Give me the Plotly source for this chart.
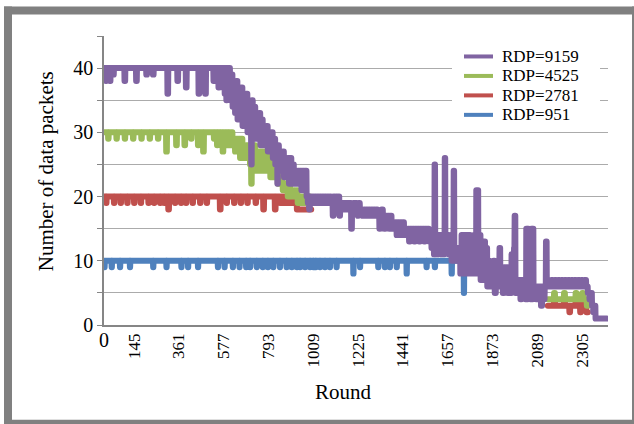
import plotly.graph_objects as go

# Each series is a list of (round, value) change points: the value holds from
# that round until the next change point. None marks rounds with no data.
LAST_ROUND = 2425

RDP_9159 = [
    (0, 40), (8, 38), (12, 40), (18, 39), (22, 40), (28, 38), (32, 40), (44, 39), (48, 40),
    (99, 38), (103, 40), (155, 38), (159, 40), (204, 39), (208, 40), (236, 39), (240, 40),
    (306, 36), (310, 40), (354, 38), (358, 40), (395, 37), (399, 40), (456, 36), (460, 40),
    (488, 36), (492, 40),
    (528, 38), (532, 40), (540, 38), (544, 40), (552, 37), (556, 40), (562, 38), (566, 40),
    (572, 37), (576, 40), (582, 36), (586, 40), (590, 35), (594, 40), (598, 36), (602, 40),
    (608, 35), (614, 39), (620, 34), (626, 38), (632, 33), (638, 38), (644, 32), (650, 37),
    (656, 32), (662, 37), (668, 31), (674, 36), (680, 31), (686, 36), (692, 30), (698, 35),
    (704, 30), (710, 25), (713, 35), (718, 30), (724, 34), (730, 29), (736, 33), (742, 29),
    (748, 33), (754, 28), (760, 32), (766, 28), (772, 31), (778, 28), (784, 31), (790, 27),
    (796, 30), (802, 27), (808, 30), (814, 26), (820, 29), (826, 25), (832, 28), (836, 22),
    (839, 28), (844, 25), (850, 27), (856, 24), (862, 27), (868, 23), (874, 26), (880, 23),
    (886, 26), (892, 22), (898, 26), (904, 22), (910, 25), (916, 22), (922, 24), (928, 22),
    (934, 24), (940, 22), (946, 24), (952, 21), (958, 24), (964, 22), (970, 24),
    (977, 20), (983, 19), (989, 18), (993, 20), (999, 19), (1005, 20), (1011, 19), (1017, 20),
    (1023, 19), (1029, 20), (1035, 19), (1041, 20), (1047, 19), (1053, 20), (1059, 19),
    (1065, 20), (1071, 19), (1077, 20), (1083, 19), (1089, 20), (1095, 19), (1103, 17),
    (1107, 20), (1113, 19), (1119, 20), (1125, 19), (1131, 20), (1135, 17), (1139, 19),
    (1145, 18), (1151, 19), (1157, 18), (1163, 19), (1169, 18), (1175, 19), (1181, 18),
    (1187, 19), (1192, 15), (1196, 18), (1202, 19), (1208, 18), (1214, 19), (1220, 18),
    (1224, 17), (1228, 19), (1234, 18), (1241, 18), (1247, 17), (1253, 18), (1259, 17),
    (1265, 18), (1271, 17), (1277, 18), (1283, 17), (1289, 18), (1295, 17), (1301, 18),
    (1307, 17), (1313, 18), (1319, 17), (1328, 15), (1332, 17), (1338, 18),
    (1345, 17), (1351, 15), (1357, 17), (1363, 16), (1369, 17), (1375, 15), (1381, 17),
    (1387, 15), (1393, 16), (1399, 15), (1405, 16), (1411, 14), (1417, 16), (1423, 14),
    (1429, 16), (1435, 14), (1441, 16), (1447, 14), (1453, 15), (1459, 14), (1465, 15),
    (1471, 13), (1477, 15), (1483, 14), (1489, 15), (1495, 13), (1501, 15), (1507, 14),
    (1513, 15), (1519, 13), (1525, 15), (1531, 14), (1537, 15), (1543, 13), (1549, 15),
    (1555, 14), (1561, 15), (1567, 13),
    (1573, 14), (1579, 12), (1585, 14), (1591, 11), (1594, 25), (1597, 13), (1603, 11),
    (1609, 14), (1615, 12), (1621, 14), (1627, 11), (1633, 13), (1639, 11), (1643, 26),
    (1646, 14), (1652, 12), (1658, 14), (1664, 11), (1670, 12), (1676, 10), (1682, 12),
    (1686, 24), (1689, 11), (1695, 10), (1701, 12), (1707, 10), (1713, 12),
    (1718, 8), (1724, 14), (1730, 9), (1736, 14), (1742, 8), (1748, 14), (1754, 9),
    (1760, 14), (1766, 8), (1772, 13), (1778, 9), (1784, 14), (1790, 8), (1795, 21),
    (1805, 9), (1810, 14), (1816, 7), (1822, 12), (1828, 7), (1832, 13), (1838, 8),
    (1842, 12), (1848, 6), (1854, 10), (1860, 6), (1866, 9), (1872, 6), (1878, 10),
    (1884, 5), (1890, 9), (1896, 6), (1902, 9), (1907, 12), (1911, 6), (1917, 9),
    (1923, 5), (1929, 9), (1935, 6), (1941, 9), (1947, 5), (1953, 8), (1959, 5),
    (1965, 11), (1971, 6), (1977, 12), (1980, 17), (1984, 5), (1990, 7), (1996, 5),
    (2002, 7), (2008, 4), (2014, 7), (2020, 5), (2026, 7), (2032, 4), (2036, 15),
    (2040, 4), (2044, 15), (2048, 5), (2052, 14), (2056, 4), (2060, 15), (2064, 4),
    (2068, 15), (2071, 5), (2077, 6), (2083, 4), (2089, 6), (2095, 4), (2101, 6),
    (2107, 3), (2113, 6), (2119, 4), (2125, 6), (2131, 13), (2135, 6),
    (2141, 7), (2149, 6), (2157, 7), (2165, 6), (2173, 7), (2181, 6), (2189, 7),
    (2197, 6), (2205, 7), (2213, 6), (2221, 7), (2229, 6), (2237, 7), (2245, 6),
    (2253, 7), (2261, 6), (2269, 7), (2277, 6), (2285, 7), (2293, 6), (2301, 7),
    (2309, 6), (2317, 7), (2325, 6),
    (2333, 5), (2341, 4), (2347, 5), (2353, 3), (2359, 2), (2365, 3), (2370, 1),
]

RDP_4525 = [
    (0, 30), (20, 29), (23, 30), (60, 29), (63, 30), (100, 29), (103, 30), (140, 29),
    (143, 30), (180, 29), (183, 30), (220, 29), (223, 30), (260, 29), (263, 30), (300, 27),
    (304, 30), (348, 28), (352, 30), (388, 28), (392, 30), (420, 29), (423, 30), (453, 28),
    (457, 30), (478, 27), (482, 30), (530, 29), (534, 30), (545, 28), (549, 30), (560, 29),
    (564, 30), (572, 27), (576, 30), (586, 28), (590, 30), (598, 28), (602, 30),
    (608, 28), (614, 30), (620, 28), (626, 29), (632, 27), (638, 29), (644, 27), (650, 29),
    (656, 26), (662, 29), (668, 26), (674, 28), (680, 26), (686, 28), (692, 26), (698, 28),
    (704, 25), (710, 22), (713, 28), (718, 25), (724, 28), (730, 24), (736, 27), (742, 24),
    (748, 27), (754, 24), (760, 27), (766, 24), (772, 27), (778, 24), (784, 27), (790, 24),
    (796, 26), (802, 23), (808, 25), (814, 23), (820, 25), (826, 23), (832, 24), (838, 22),
    (844, 23), (850, 22), (856, 23), (862, 21), (868, 22), (874, 21), (880, 22), (886, 20),
    (892, 22), (898, 20), (904, 21), (910, 20), (916, 21), (922, 20), (928, 21), (934, 19),
    (940, 20), (946, 19), (952, 20), (958, 19), (964, 20), (970, 19), (976, 20), (982, 19),
    (988, 20), (994, 19), (1000, None),
    (2140, 4), (2170, 5), (2175, 4), (2218, 5), (2223, 4), (2274, 5), (2279, 4),
    (2306, 5), (2311, 4), (2328, 3), (2334, None),
]

RDP_2781 = [
    (0, 20), (10, 19), (13, 20), (48, 19), (51, 20), (80, 19), (83, 20), (112, 19), (115, 20),
    (145, 19), (148, 20), (177, 19), (180, 20), (214, 19), (217, 20), (241, 19), (244, 20),
    (270, 19), (273, 20), (290, 19), (293, 20), (310, 18), (314, 20), (342, 19), (345, 20),
    (371, 19), (374, 20), (395, 19), (398, 20), (427, 19), (430, 20), (463, 19), (466, 20),
    (495, 19), (498, 20), (559, 18), (563, 20), (591, 19), (594, 20), (627, 19), (630, 20),
    (659, 19), (662, 20), (691, 19), (694, 20), (731, 19), (734, 20), (768, 18), (772, 20),
    (824, 18), (828, 20), (848, 19), (854, 20), (860, 19), (866, 20), (872, 19), (878, 20),
    (884, 19), (890, 20), (896, 19), (902, 20), (913, 19), (917, 20), (930, 18),
    (1000, None),
    (2140, 3), (2170, 4), (2175, 3), (2218, 4), (2223, 3), (2244, 2), (2248, 3),
    (2274, 4), (2279, 3), (2296, 2), (2300, 3), (2306, 4), (2311, 3), (2326, 2),
    (2334, None),
]

RDP_951 = [
    (0, 10), (2, 9), (4, 10), (37, 9), (39, 10), (77, 9), (79, 10), (125, 9), (127, 10),
    (237, 9), (239, 10), (301, 9), (303, 10), (373, 9), (375, 10), (405, 9), (407, 10),
    (453, 9), (455, 10), (549, 9), (551, 10), (581, 9), (583, 10), (621, 9), (623, 10),
    (653, 9), (655, 10), (685, 9), (687, 10), (704, 9), (706, 10), (736, 9), (738, 10),
    (765, 9), (767, 10), (790, 9), (792, 10), (816, 9), (818, 10), (848, 9), (850, 10),
    (880, 9), (882, 10), (905, 9), (907, 10), (930, 9), (932, 10), (945, 9), (947, 10),
    (969, 9), (971, 10), (993, 9), (995, 10), (1009, 9), (1011, 10), (1021, 9), (1023, 10),
    (1041, 9), (1043, 10), (1065, 9), (1067, 10), (1089, 9), (1091, 10), (1121, 9),
    (1123, 10), (1202, 8), (1204, 10), (1234, 9), (1236, 10), (1322, 9), (1324, 10),
    (1354, 9), (1356, 10), (1378, 9), (1380, 10), (1411, 9), (1413, 10), (1459, 8),
    (1461, 10), (1555, 9), (1557, 10), (1595, 9), (1597, 10), (1676, 8), (1678, 10),
    (1735, 5), (1737, 10), (1790, None),
]

# drawn bottom to top, so the RDP=9159 line sits over the others
SERIES = [
    ("RDP=951", RDP_951, "#4F81BD"),
    ("RDP=2781", RDP_2781, "#C0504D"),
    ("RDP=4525", RDP_4525, "#9BBB59"),
    ("RDP=9159", RDP_9159, "#8064A2"),
]

X_TICKS = [145, 361, 577, 793, 1009, 1225, 1441, 1657, 1873, 2089, 2305]
Y_TICKS = [0, 5, 10, 15, 20, 25, 30, 35, 40, 45]
Y_LABELS = ["0", "", "10", "", "20", "", "30", "", "40", ""]


def per_round(points, last):
    values = []
    for i, (start, v) in enumerate(points):
        stop = points[i + 1][0] if i + 1 < len(points) else last + 1
        values.extend([v] * (stop - start))
    return values


FONT = "Liberation Serif, Times New Roman, serif"

# page geometry (pixels) of the plotting area
W, H = 634, 424
L, R, T, B = 104, 608, 35.5, 325


def px(x):
    return (x - L) / (R - L)


def py(y):
    return (B - y) / (B - T)


fig = go.Figure()
for name, pts, color in SERIES:
    vals = per_round(pts, LAST_ROUND)
    fig.add_trace(go.Scatter(
        x=list(range(len(vals))), y=vals, mode="lines", name=name,
        line=dict(color=color, width=6, simplify=False),
        connectgaps=False, showlegend=False, hoverinfo="skip",
    ))

shapes = []
# grey frame around the whole chart
GREY = "#808080"
for x0, y0, x1, y1 in [(4, 6, 640, 14), (4, 6, 12, 430), (632, 6, 640, 430), (4, 420, 640, 430)]:
    shapes.append(dict(type="rect", xref="paper", yref="paper",
                       x0=px(x0), x1=px(x1), y0=py(y0), y1=py(y1),
                       fillcolor=GREY, line=dict(width=0), layer="above"))

# legend box
shapes.append(dict(type="rect", xref="paper", yref="paper",
                   x0=px(452), x1=px(600), y0=py(42), y1=py(126),
                   fillcolor="white", line=dict(width=0), layer="above"))
annotations = []
legend_rows = [("RDP=9159", "#8064A2", 56), ("RDP=4525", "#9BBB59", 75.5),
               ("RDP=2781", "#C0504D", 95), ("RDP=951", "#4F81BD", 114.5)]
for text, color, yy in legend_rows:
    shapes.append(dict(type="line", xref="paper", yref="paper",
                       x0=px(464), x1=px(493), y0=py(yy), y1=py(yy),
                       line=dict(color=color, width=4), layer="above"))
    annotations.append(dict(text=text, xref="paper", yref="paper", x=px(500), y=py(yy),
                            xanchor="left", yanchor="middle", showarrow=False,
                            font=dict(family=FONT, size=17, color="black")))

annotations += [
    dict(text="Number of data packets", xref="paper", yref="paper", x=px(46), y=py(171),
         textangle=-90, showarrow=False, xanchor="center", yanchor="middle",
         font=dict(family=FONT, size=21, color="black")),
    dict(text="Round", xref="paper", yref="paper", x=px(343), y=py(392),
         showarrow=False, xanchor="center", yanchor="middle",
         font=dict(family=FONT, size=21, color="black")),
    dict(text="0", xref="paper", yref="paper", x=px(104), y=py(340),
         showarrow=False, xanchor="center", yanchor="middle",
         font=dict(family=FONT, size=20, color="black")),
]

fig.update_layout(
    width=W, height=H,
    margin=dict(l=L, r=W - R, t=T, b=H - B, pad=0),
    paper_bgcolor="white", plot_bgcolor="white",
    showlegend=False,
    shapes=shapes, annotations=annotations,
    font=dict(family=FONT, color="black"),
    xaxis=dict(range=[0, 2430], tickvals=X_TICKS, ticktext=[str(v) for v in X_TICKS],
               tickangle=-90, showgrid=False, zeroline=False, showline=True,
               linecolor="#868686", linewidth=1.5, ticks="",
               tickfont=dict(family=FONT, size=17, color="black")),
    yaxis=dict(range=[0, 45], tickvals=Y_TICKS, ticktext=Y_LABELS,
               showgrid=True, gridcolor="#ababab", gridwidth=1.3, zeroline=False,
               showline=True, linecolor="#868686", linewidth=1.5,
               ticks="outside", ticklen=5, tickcolor="#868686",
               tickfont=dict(family=FONT, size=20, color="black")),
)

# rounded joins and caps on the data lines
ROUND_JOINS = """
document.querySelectorAll('.scatterlayer path.js-line').forEach(function (p) {
    p.style.strokeLinejoin = 'round';
    p.style.strokeLinecap = 'round';
});
"""

fig.write_html("out.html", post_script=ROUND_JOINS)
